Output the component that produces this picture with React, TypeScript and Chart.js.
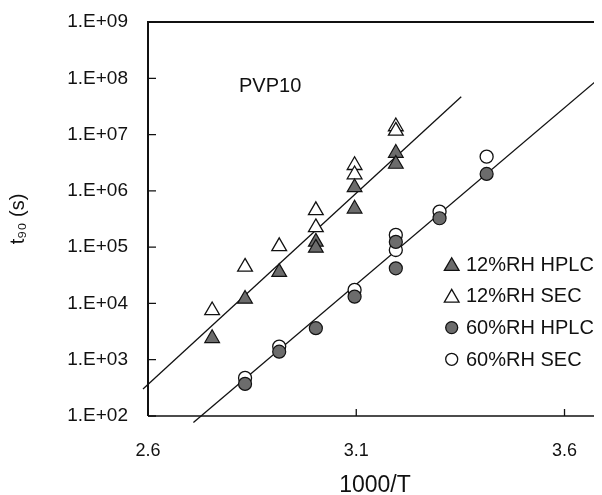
import React, { useEffect, useRef } from "react";
import { Chart, registerables } from "chart.js";

Chart.register(...registerables);

// ---- data ----
const hplc12X = [2.754, 2.833, 2.915, 3.003, 3.003, 3.096, 3.096, 3.195, 3.195];
const hplc12Y = [2400, 12000, 36000, 124000, 97000, 1150000, 480000, 4700000, 3000000];
const sec12X = [2.754, 2.833, 2.915, 3.003, 3.003, 3.096, 3.096, 3.195, 3.195];
const sec12Y = [7500, 44500, 103000, 450000, 224000, 2850000, 1950000, 13900000, 11600000];
const hplc60X = [2.833, 2.915, 3.003, 3.096, 3.195, 3.195, 3.3, 3.413];
const hplc60Y = [372, 1390, 3630, 13200, 124000, 42000, 326000, 2000000];
const sec60X = [2.833, 2.915, 3.096, 3.195, 3.195, 3.3, 3.413];
const sec60Y = [475, 1710, 17400, 165000, 89000, 427000, 4050000];
const fit12X = [2.588, 3.352];
const fit12Y = [303, 47100000];
const fit60X = [2.709, 3.69];
const fit60Y = [76.4, 110000000];

const xTickValues = [2.6, 3.1, 3.6];
const xTickLabels = ["2.6", "3.1", "3.6"];
const yTickValues = [1e2, 1e3, 1e4, 1e5, 1e6, 1e7, 1e8, 1e9];
const yTickLabels = ["1.E+02", "1.E+03", "1.E+04", "1.E+05", "1.E+06", "1.E+07", "1.E+08", "1.E+09"];
const seriesNames = ["12%RH HPLC", "12%RH SEC", "60%RH HPLC", "60%RH SEC"];
const xTitle = "1000/T";
const yTitle = "t\u2089\u2080 (s)";
const annotation = "PVP10";

const FONT = "'Liberation Sans', Arial, Helvetica, sans-serif";
const INK = "#111";
const GREY = "#6c6c6c";

const pts = (xs: number[], ys: number[]) => xs.map((x, i) => ({ x, y: ys[i] }));

function drawMarker(ctx: CanvasRenderingContext2D, kind: string, filled: boolean, x: number, y: number, r: number) {
  ctx.beginPath();
  if (kind === "triangle") {
    ctx.moveTo(x, y - r);
    ctx.lineTo(x + r * 0.866, y + r * 0.5);
    ctx.lineTo(x - r * 0.866, y + r * 0.5);
    ctx.closePath();
  } else {
    ctx.arc(x, y, r, 0, Math.PI * 2);
  }
  ctx.fillStyle = filled ? GREY : "#fff";
  ctx.fill();
  ctx.lineWidth = 1.3;
  ctx.strokeStyle = INK;
  ctx.stroke();
}

const framePlugin = {
  id: "frameAndLegend",
  afterDraw(chart: any) {
    const { ctx, chartArea, scales } = chart;
    const { left, top, bottom } = chartArea;
    ctx.save();
    ctx.strokeStyle = INK;
    ctx.lineWidth = 2;
    ctx.beginPath();
    ctx.moveTo(chart.width, top);
    ctx.lineTo(left, top);
    ctx.lineTo(left, bottom);
    ctx.stroke();
    ctx.lineWidth = 1.6;
    ctx.beginPath();
    ctx.moveTo(left, bottom);
    ctx.lineTo(chart.width, bottom);
    ctx.stroke();
    // inward tick marks
    ctx.lineWidth = 1.3;
    ctx.beginPath();
    scales.y.ticks.forEach((t: any) => {
      const y = scales.y.getPixelForValue(t.value);
      ctx.moveTo(left, y);
      ctx.lineTo(left + 8, y);
    });
    scales.x.ticks.forEach((t: any) => {
      const x = scales.x.getPixelForValue(t.value);
      ctx.moveTo(x, bottom);
      ctx.lineTo(x, bottom - 7);
    });
    ctx.stroke();

    // annotation
    ctx.fillStyle = INK;
    ctx.font = `20px ${FONT}`;
    ctx.textAlign = "left";
    ctx.textBaseline = "alphabetic";
    ctx.fillText(annotation, 231, 84);

    // legend
    const kinds = ["triangle", "triangle", "circle", "circle"];
    const fills = [true, false, true, false];
    const radii = [8.5, 8.5, 6, 6];
    ctx.font = `20px ${FONT}`;
    seriesNames.forEach((name, i) => {
      const base = 262.7 + i * 31.7;
      drawMarker(ctx, kinds[i], fills[i], 443.7, base - 6.5 + (kinds[i] === "triangle" ? 2 : 0), radii[i]);
      ctx.fillStyle = INK;
      ctx.fillText(name, 458, base);
    });
    ctx.restore();
  },
};

export default function App() {
  const ref = useRef<HTMLCanvasElement>(null);
  useEffect(() => {
    if (!ref.current) return;
    Chart.defaults.font.family = FONT;
    Chart.defaults.color = INK;
    const chart = new Chart(ref.current, {
      type: "scatter",
      data: {
        datasets: [
          {
            label: seriesNames[0],
            data: pts(hplc12X, hplc12Y),
            pointStyle: "triangle",
            pointRadius: 8.5,
            backgroundColor: GREY,
            borderColor: INK,
            borderWidth: 1.2,
          },
          {
            label: seriesNames[2],
            data: pts(hplc60X, hplc60Y),
            pointStyle: "circle",
            pointRadius: 6.5,
            backgroundColor: GREY,
            borderColor: INK,
            borderWidth: 1.2,
          },
          {
            label: seriesNames[1],
            data: pts(sec12X, sec12Y),
            pointStyle: "triangle",
            pointRadius: 8.5,
            backgroundColor: "#fff",
            borderColor: INK,
            borderWidth: 1.3,
          },
          {
            label: seriesNames[3],
            data: pts(sec60X, sec60Y),
            pointStyle: "circle",
            pointRadius: 6.5,
            backgroundColor: "#fff",
            borderColor: INK,
            borderWidth: 1.3,
          },
          {
            label: "fit 12%RH",
            data: pts(fit12X, fit12Y),
            showLine: true,
            pointRadius: 0,
            borderColor: INK,
            borderWidth: 1.3,
            clip: false,
          } as any,
          {
            label: "fit 60%RH",
            data: pts(fit60X, fit60Y),
            showLine: true,
            pointRadius: 0,
            borderColor: INK,
            borderWidth: 1.3,
            clip: false,
          } as any,
        ],
      },
      options: {
        animation: false,
        responsive: false,
        devicePixelRatio: 1,
        layout: { autoPadding: false, padding: { top: 14, left: 0, right: 0, bottom: 0 } },
        plugins: { legend: { display: false }, tooltip: { enabled: false } },
        scales: {
          x: {
            type: "linear",
            min: 2.6,
            max: 3.69,
            grid: { display: false, drawTicks: false },
            border: { display: false },
            afterBuildTicks: (s: any) => {
              s.ticks = xTickValues.map((v) => ({ value: v }));
            },
            afterFit: (s: any) => {
              s.height = 79;
              s.paddingLeft = 0;
              s.paddingRight = 0;
              s.paddingTop = 0;
              s.paddingBottom = 0;
            },
            ticks: {
              autoSkip: false,
              maxRotation: 0,
              padding: 24,
              font: { size: 18 },
              color: INK,
              callback: (v: any) => {
                const i = xTickValues.findIndex((t) => Math.abs(t - Number(v)) < 1e-6);
                return i >= 0 ? xTickLabels[i] : "";
              },
            },
            title: {
              display: true,
              text: xTitle,
              font: { size: 23, lineHeight: 0.8 },
              color: INK,
              padding: { top: 0, bottom: 0 },
            },
          },
          y: {
            type: "logarithmic",
            min: 1e2,
            max: 1e9,
            grid: { display: false, drawTicks: false },
            border: { display: false },
            afterBuildTicks: (s: any) => {
              s.ticks = yTickValues.map((v) => ({ value: v }));
            },
            afterFit: (s: any) => {
              s.width = 140;
              s.paddingLeft = 0;
              s.paddingRight = 0;
              s.paddingTop = 0;
              s.paddingBottom = 0;
            },
            ticks: {
              autoSkip: false,
              padding: 20,
              font: { size: 19 },
              color: INK,
              callback: (v: any) => {
                const i = yTickValues.findIndex((t) => Math.abs(Math.log10(t) - Math.log10(Number(v))) < 1e-6);
                return i >= 0 ? yTickLabels[i] : "";
              },
            },
            title: {
              display: true,
              text: yTitle,
              font: { size: 20, lineHeight: 1 },
              color: INK,
              padding: { top: 0, bottom: 0 },
            },
          },
        },
      },
      plugins: [framePlugin],
    });
    return () => chart.destroy();
  }, []);
  return <canvas ref={ref} width={594} height={487} style={{ display: "block" }} />;
}
